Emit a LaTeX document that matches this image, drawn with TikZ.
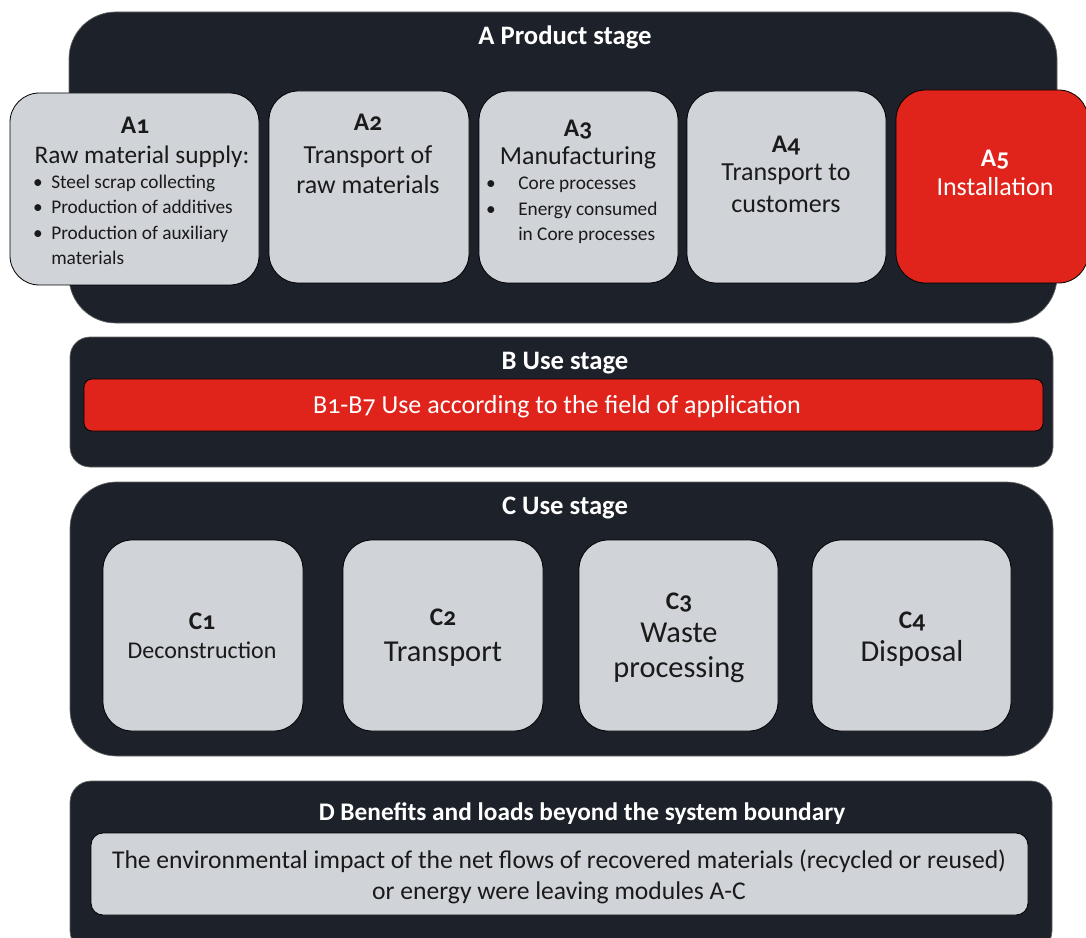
\documentclass[tikz,border=0pt]{standalone}
\usepackage{fontspec}
\setmainfont{Carlito}[Numbers=OldStyle]
\usetikzlibrary{fit}
\definecolor{panelbg}{HTML}{1C212A}
\definecolor{modgray}{HTML}{D0D3D8}
\definecolor{modred}{HTML}{E0241B}
\definecolor{ink}{HTML}{1A1A1A}
\tikzset{
	panel/.style={fill=panelbg, draw=black!60, line width=0.5pt, inner sep=0pt},
	module/.style={fill=modgray, draw=black, line width=0.6pt, rounded corners=22pt, inner sep=0pt},
	redmodule/.style={module, fill=modred},
	lbl/.style={inner sep=0pt, text depth=0pt, text=ink},
	head/.style={lbl, text=white, font=\bfseries\fontsize{20}{24}\selectfont, text height=12.8pt},
	code/.style={lbl, font=\bfseries\fontsize{19}{23}\selectfont, text height=12.2pt},
	body/.style={lbl, font=\fontsize{19.5}{23}\selectfont, text height=12.5pt},
	mid/.style={lbl, font=\fontsize{18}{22}\selectfont, text height=11.5pt},
	big/.style={lbl, font=\fontsize{22.8}{27}\selectfont, text height=14.6pt},
	small/.style={lbl, font=\fontsize{14.5}{17}\selectfont, text height=9.3pt},
}
\begin{document}
\begin{tikzpicture}[x=0.75pt,y=-0.75pt]
		\clip (0,0) rectangle (1086,938);
		\fill[white] (0,0) rectangle (1086,938);
		% A product stage
		\node[panel, rounded corners=35pt, fit={(69,12) (1057,323)}] (PA) {};
		\node[head] (PAt) at (565,36) {A Product stage};
		\node[module, fit={(10,93) (259,285)}] (A1) {};
		\node[module, fit={(269,91) (469,283)}] (A2) {};
		\node[module, fit={(479,91) (678,283)}] (A3) {};
		\node[module, fit={(687,91) (886,283)}] (A4) {};
		\node[redmodule, fit={(896,90) (1088,283)}] (A5) {};
		\node[code] (A1c) at (135,125.5) {A1};
		\node[body, font=\fontsize{19}{23}\selectfont] (A1t) at (142,155.5) {Raw material supply:};
		\foreach \y/\t [count=\i] in {182/Steel scrap collecting, 207/Production of additives, 233/Production of auxiliary}{
			\node[small] (A1d\i) at (38,\y) {\textbullet};
			\node[small, anchor=west] (A1i\i) at (51,\y) {\t};
		}
		\node[small, anchor=west] (A1i4) at (51,258) {materials};
		\node[code] (A2c) at (368,122) {A2};
		\node[body] (A2t1) at (368,155) {Transport of};
		\node[body] (A2t2) at (368,185) {raw materials};
		\node[code] (A3c) at (578,128) {A3};
		\node[body] (A3t) at (578,156) {Manufacturing};
		\foreach \y/\t [count=\i] in {183/Core processes, 209/Energy consumed}{
			\node[small] (A3d\i) at (491,\y) {\textbullet};
			\node[small, anchor=west] (A3i\i) at (518,\y) {\t};
		}
		\node[small, anchor=west] (A3i3) at (518,234) {in Core processes};
		\node[code] (A4c) at (786,144) {A4};
		\node[body] (A4t1) at (786,172) {Transport to};
		\node[body] (A4t2) at (786,204) {customers};
		\node[code, text=white] (A5c) at (995,158) {A5};
		\node[body, text=white] (A5t) at (995,187) {Installation};
		% B use stage
		\node[panel, rounded corners=15pt, fit={(70,337) (1053,467)}] (PB) {};
		\node[head] (PBt) at (565,361) {B Use stage};
		\node[redmodule, rounded corners=6pt, fit={(84,379) (1043,431)}] (B) {};
		\node[body, text=white] (Bt) at (557,405) {B1-B7 Use according to the field of application};
		% C use stage
		\node[panel, rounded corners=35pt, fit={(70,482) (1053,756)}] (PC) {};
		\node[head] (PCt) at (565,506) {C Use stage};
		\node[module, fit={(103,540) (303,731)}] (C1) {};
		\node[module, fit={(343,540) (543,731)}] (C2) {};
		\node[module, fit={(579,540) (778,731)}] (C3) {};
		\node[module, fit={(812,540) (1011,731)}] (C4) {};
		\node[code] (C1c) at (202,621) {C1};
		\node[mid] (C1t) at (202,651) {Deconstruction};
		\node[code] (C2c) at (443,617) {C2};
		\node[big] (C2t) at (443,652) {Transport};
		\node[code] (C3c) at (679,601) {C3};
		\node[big] (C3t1) at (679,633) {Waste};
		\node[big] (C3t2) at (679,668) {processing};
		\node[code] (C4c) at (912,620) {C4};
		\node[big] (C4t) at (912,652) {Disposal};
		% D beyond the system boundary
		\node[panel, rounded corners=16pt, fit={(70,781) (1052,952)}] (PD) {};
		\node[head, font=\bfseries\fontsize{19}{23}\selectfont] (PDt) at (582,812) {D Benefits and loads beyond the system boundary};
		\node[module, rounded corners=9pt, fit={(91,833) (1028,915)}] (D) {};
		\node[body, font=\fontsize{19.2}{23}\selectfont] (Dt1) at (559,860) {The environmental impact of the net flows of recovered materials (recycled or reused)};
		\node[body, font=\fontsize{19.2}{23}\selectfont] (Dt2) at (559,891) {or energy were leaving modules A-C};
\end{tikzpicture}
\end{document}
